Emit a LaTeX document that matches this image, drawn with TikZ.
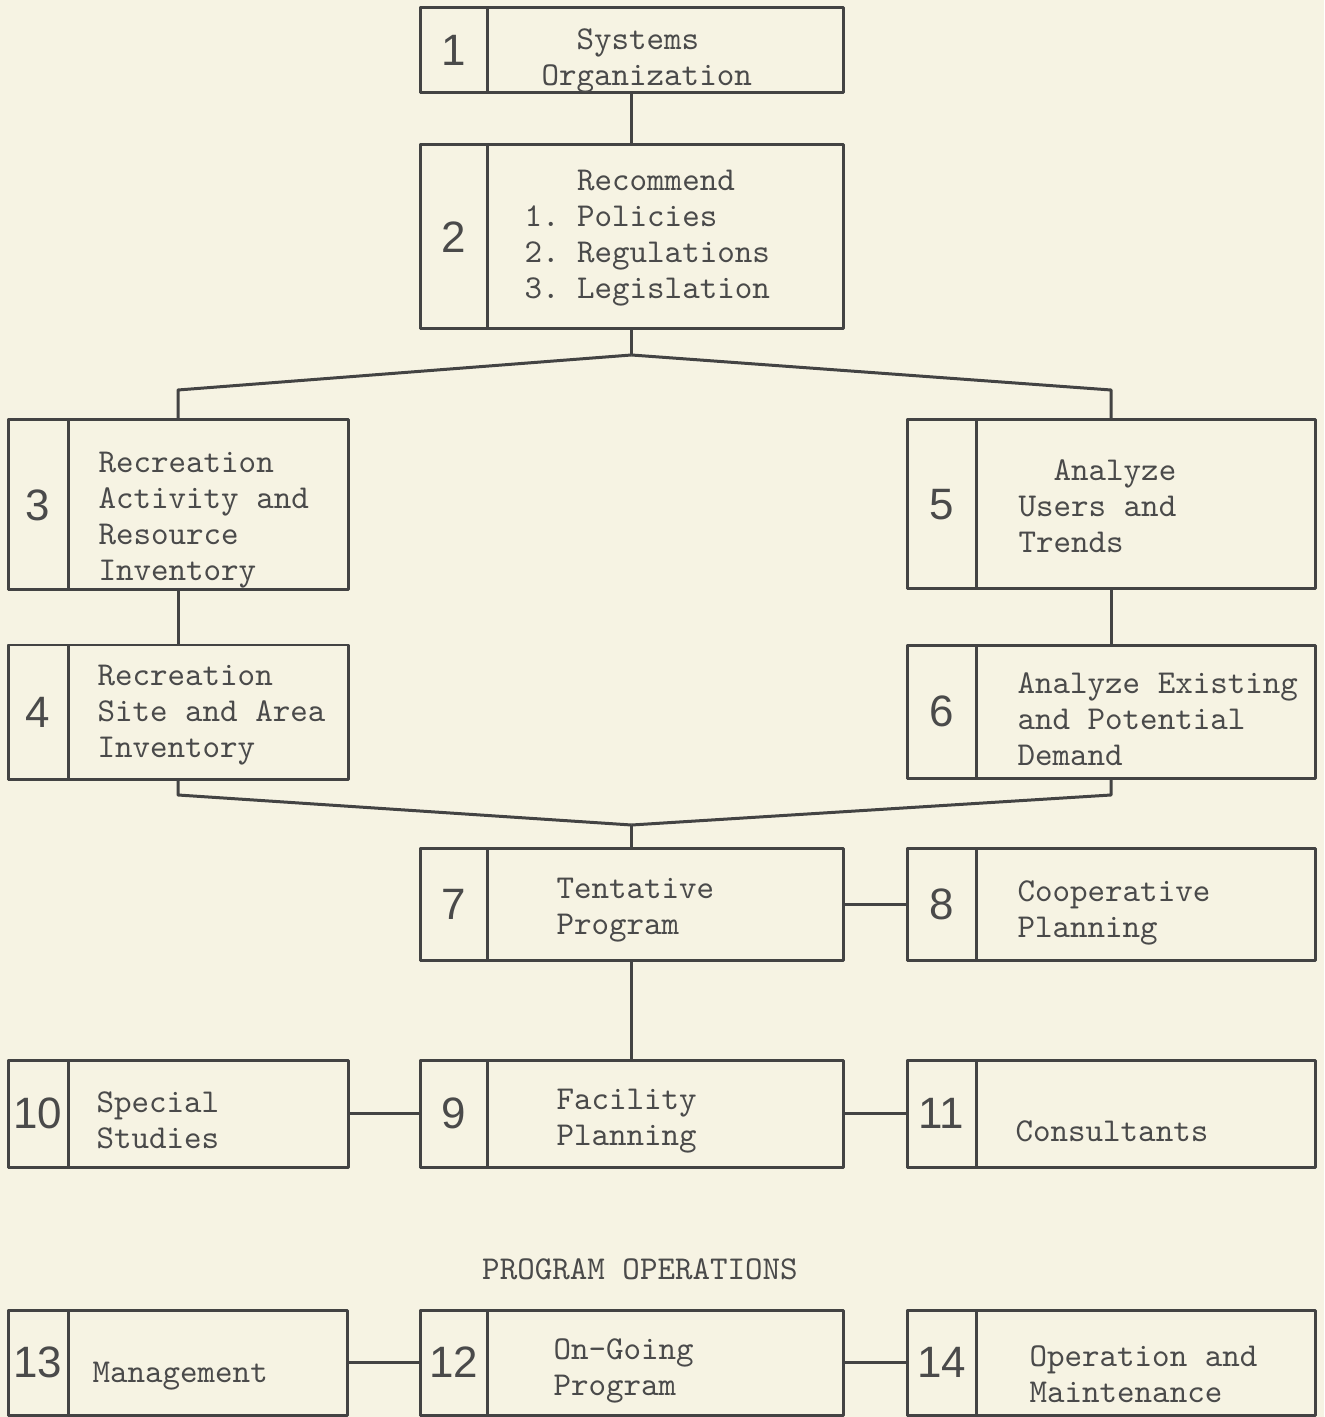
\documentclass[tikz,border=0pt]{standalone}
\usepackage{fontspec}
\setsansfont{Liberation Sans}
\usepackage{tikz}
\usetikzlibrary{calc}
\definecolor{paper}{HTML}{F6F3E3}
\definecolor{ink}{HTML}{434343}
\definecolor{typed}{HTML}{4A4A4A}

\begin{document}
\frenchspacing
\begin{tikzpicture}[x=0.1mm,y=-0.1mm,line width=0.3mm,line join=round,
    frame/.style={draw=ink,inner sep=0pt,outer sep=0pt,anchor=north west},
    numcell/.style={frame,text=typed,font=\fontsize{12.5}{14}\selectfont\sffamily},
    boxtext/.style={anchor=west,align=left,inner sep=0pt,text=typed,font=\fontsize{9.5}{10.25}\selectfont\ttfamily}]
  \fill[paper] (0,0) rectangle (1324,1417);
  \useasboundingbox (0,0) rectangle (1324,1417);

  % planning chain
  \node[frame,minimum width=42.3mm,minimum height=8.5mm] (b1) at (420,8) {};
  \node[numcell,minimum width=6.7mm,minimum height=8.5mm] (n1) at (b1.north west) {1};
  \node[boxtext] (t1) at (540,61) {\phantom{Or}Systems\\Organization};

  \node[frame,minimum width=42.3mm,minimum height=18.4mm] (b2) at (420,145) {};
  \node[numcell,minimum width=6.7mm,minimum height=18.4mm] (n2) at (b2.north west) {2};
  \node[boxtext] (t2) at (523,238) {\phantom{1. }Recommend\\1. Policies\\2. Regulations\\3. Legislation};

  \node[frame,minimum width=34mm,minimum height=17mm] (b3) at (8,420) {};
  \node[numcell,minimum width=6mm,minimum height=17mm] (n3) at (b3.north west) {3};
  \node[boxtext] (t3) at (97,520) {Recreation\\Activity and\\Resource\\Inventory};

  \node[frame,minimum width=34mm,minimum height=13.4mm] (b4) at (8,645) {};
  \node[numcell,minimum width=6mm,minimum height=13.4mm] (n4) at (b4.north west) {4};
  \node[boxtext] (t4) at (96,715) {Recreation\\Site and Area\\Inventory};

  \node[frame,minimum width=40.8mm,minimum height=16.9mm] (b5) at (907,420) {};
  \node[numcell,minimum width=6.9mm,minimum height=16.9mm] (n5) at (b5.north west) {5};
  \node[boxtext] (t5) at (1017,506) {\phantom{Us}Analyze\\Users and\\Trends};

  \node[frame,minimum width=40.8mm,minimum height=13.3mm] (b6) at (907,645) {};
  \node[numcell,minimum width=6.9mm,minimum height=13.3mm] (n6) at (b6.north west) {6};
  \node[boxtext] (t6) at (1016,719) {Analyze Existing\\and Potential\\Demand};

  \node[frame,minimum width=42.3mm,minimum height=11.2mm] (b7) at (420,848) {};
  \node[numcell,minimum width=6.7mm,minimum height=11.2mm] (n7) at (b7.north west) {7};
  \node[boxtext] (t7) at (555,910) {Tentative\\Program};

  \node[frame,minimum width=40.8mm,minimum height=11.2mm] (b8) at (907,848) {};
  \node[numcell,minimum width=6.9mm,minimum height=11.2mm] (n8) at (b8.north west) {8};
  \node[boxtext] (t8) at (1016,913) {Cooperative\\Planning};

  \node[frame,minimum width=42.3mm,minimum height=10.7mm] (b9) at (420,1060) {};
  \node[numcell,minimum width=6.7mm,minimum height=10.7mm] (n9) at (b9.north west) {9};
  \node[boxtext] (t9) at (555,1121) {Facility\\Planning};

  \node[frame,minimum width=34mm,minimum height=10.7mm] (b10) at (8,1060) {};
  \node[numcell,minimum width=6mm,minimum height=10.7mm] (n10) at (b10.north west) {10};
  \node[boxtext] (t10) at (95,1120) {Special\\Studies};

  \node[frame,minimum width=40.8mm,minimum height=10.7mm] (b11) at (907,1060) {};
  \node[numcell,minimum width=6.9mm,minimum height=10.7mm] (n11) at (b11.north west) {11};
  \node[boxtext] (t11) at (1014,1131) {Consultants};

  % program operations
  \node[boxtext,anchor=center] (ops) at (640,1269) {PROGRAM OPERATIONS};

  \node[frame,minimum width=42.3mm,minimum height=10.5mm] (b12) at (420,1310) {};
  \node[numcell,minimum width=6.7mm,minimum height=10.5mm] (n12) at (b12.north west) {12};
  \node[boxtext] (t12) at (552,1371) {On-Going\\Program};

  \node[frame,minimum width=33.9mm,minimum height=10.5mm] (b13) at (8,1310) {};
  \node[numcell,minimum width=6mm,minimum height=10.5mm] (n13) at (b13.north west) {13};
  \node[boxtext] (t13) at (91,1376) {Management};

  \node[frame,minimum width=40.8mm,minimum height=10.5mm] (b14) at (907,1310) {};
  \node[numcell,minimum width=6.9mm,minimum height=10.5mm] (n14) at (b14.north west) {14};
  \node[boxtext] (t14) at (1028,1374) {Operation and\\Maintenance};

  % connectors
  \coordinate (split) at ($(b2.south)+(0,26)$);
  \coordinate (merge) at ($(b7.north)+(0,-23)$);
  \draw[ink] (b1.south) -- (b2.north);
  \draw[ink] (b2.south) -- (split);
  \draw[ink] (split) -- ($(b3.north)+(0,-30)$) -- (b3.north);
  \draw[ink] (split) -- ($(b5.north)+(0,-30)$) -- (b5.north);
  \draw[ink] (b3.south) -- (b4.north);
  \draw[ink] (b5.south) -- (b6.north);
  \draw[ink] (b4.south) -- ($(b4.south)+(0,16)$) -- (merge);
  \draw[ink] (b6.south) -- ($(b6.south)+(0,17)$) -- (merge);
  \draw[ink] (merge) -- (b7.north);
  \draw[ink] (b7.east) -- (b8.west);
  \draw[ink] (b7.south) -- (b9.north);
  \draw[ink] (b10.east) -- (b9.west);
  \draw[ink] (b9.east) -- (b11.west);
  \draw[ink] (b13.east) -- (b12.west);
  \draw[ink] (b12.east) -- (b14.west);
\end{tikzpicture}
\end{document}
